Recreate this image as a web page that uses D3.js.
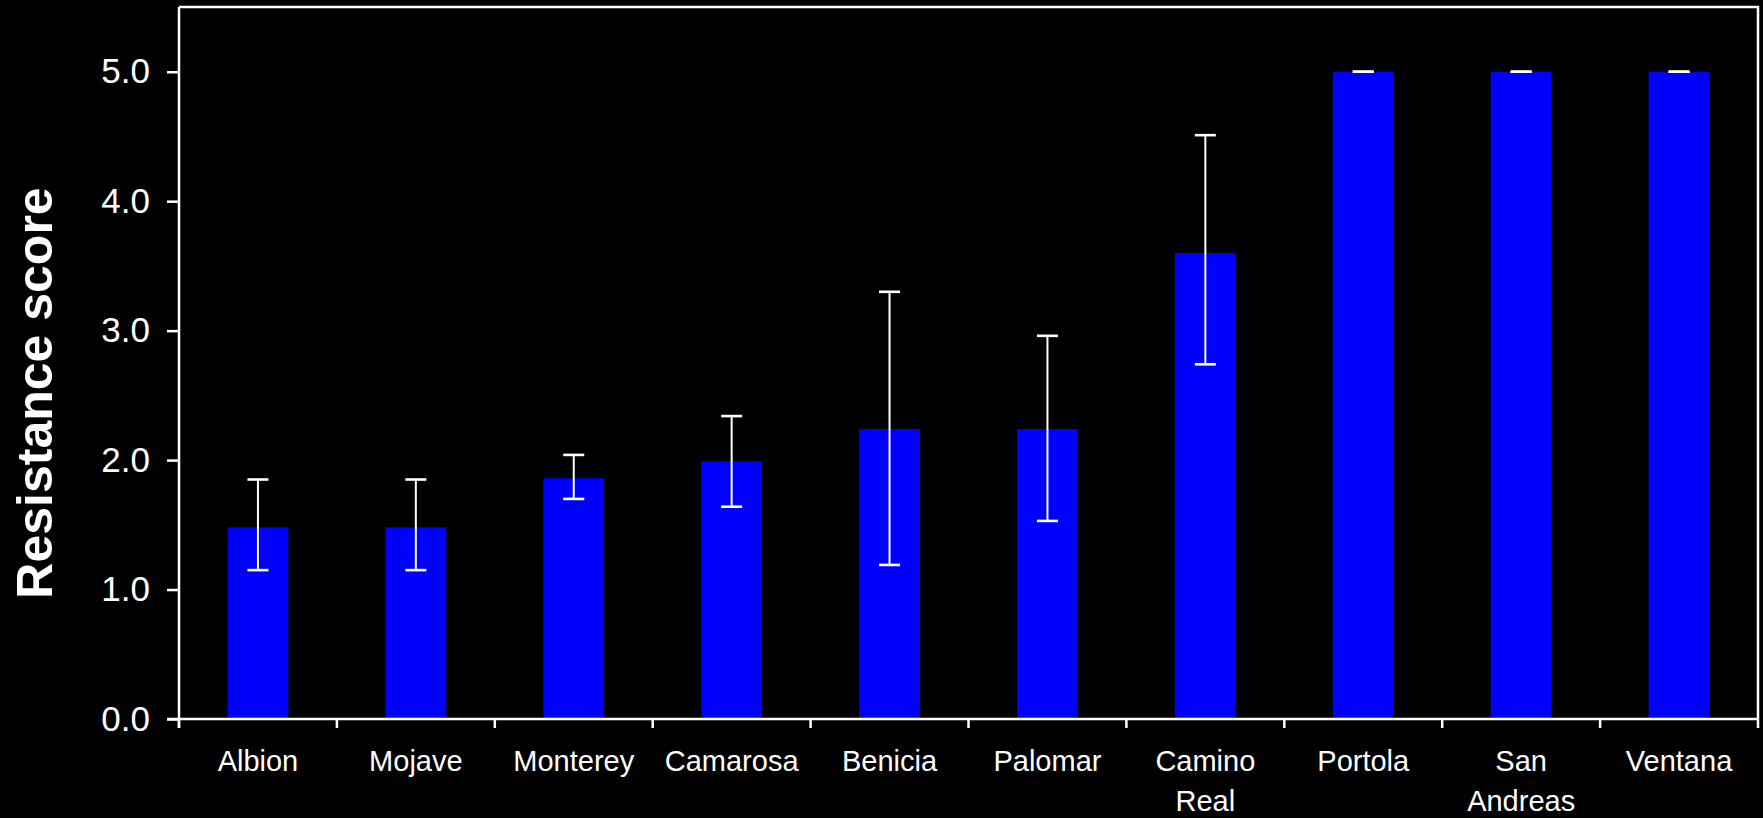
<!DOCTYPE html>
<html>
<head>
<meta charset="utf-8">
<script src="https://cdn.jsdelivr.net/npm/d3@7"></script>
<style>
  html, body { margin: 0; padding: 0; background: #000; }
  svg { display: block; }
  text { font-family: Arial, "Liberation Sans", sans-serif; fill: #fff; }
</style>
</head>
<body>
<svg id="chart" width="1763" height="818"></svg>
<script>
// Cultivars and their mean resistance scores with error-bar limits
const categories = ["Albion", "Mojave", "Monterey", "Camarosa", "Benicia",
                    "Palomar", "Camino Real", "Portola", "San Andreas", "Ventana"];
const means = [1.48, 1.48, 1.86, 1.99, 2.24, 2.24, 3.60, 5.0, 5.0, 5.0];
const upper = [1.85, 1.85, 2.04, 2.34, 3.30, 2.96, 4.51, 5.0, 5.0, 5.0];
const lower = [1.15, 1.15, 1.70, 1.64, 1.19, 1.53, 2.74, 5.0, 5.0, 5.0];
const yTicks = [0, 1, 2, 3, 4, 5];
const yTitle = "Resistance score";

const data = categories.map((c, i) => ({ name: c, mean: means[i], hi: upper[i], lo: lower[i] }));

const svg = d3.select("#chart");
const plotLeft = 179, plotRight = 1758, plotTop = 7, plotBottom = 719;

const x = d3.scaleBand().domain(categories).range([plotLeft, plotRight]).padding(0);
const y = d3.scaleLinear().domain([0, 5.5]).range([plotBottom, plotTop]);
const barW = x.bandwidth() * 0.385;

// frame (top and right edges)
svg.append("path")
  .attr("d", `M${plotLeft},${plotTop}H${plotRight}V${plotBottom}`)
  .attr("fill", "none").attr("stroke", "#fff").attr("stroke-width", 2.5);

// bars
svg.append("g").selectAll("rect").data(data).join("rect")
  .attr("x", d => x(d.name) + x.bandwidth() / 2 - barW / 2)
  .attr("y", d => y(d.mean))
  .attr("width", barW)
  .attr("height", d => y(0) - y(d.mean))
  .attr("fill", "#0000ff");

// error bars
const eb = svg.append("g").attr("stroke", "#fff");
const cx = d => x(d.name) + x.bandwidth() / 2;
const capW = 21;
eb.selectAll("line.stem").data(data).join("line").attr("class", "stem")
  .attr("x1", cx).attr("x2", cx)
  .attr("y1", d => y(d.hi)).attr("y2", d => y(d.lo))
  .attr("stroke-width", 2);
eb.selectAll("line.capHi").data(data).join("line").attr("class", "capHi")
  .attr("x1", d => cx(d) - capW / 2).attr("x2", d => cx(d) + capW / 2)
  .attr("y1", d => y(d.hi)).attr("y2", d => y(d.hi))
  .attr("stroke-width", 2.6);
eb.selectAll("line.capLo").data(data).join("line").attr("class", "capLo")
  .attr("x1", d => cx(d) - capW / 2).attr("x2", d => cx(d) + capW / 2)
  .attr("y1", d => y(d.lo)).attr("y2", d => y(d.lo))
  .attr("stroke-width", 2.6);

// y axis
const yAxis = svg.append("g").attr("transform", `translate(${plotLeft},0)`)
  .call(d3.axisLeft(y).tickValues(yTicks).tickFormat(d3.format(".1f")).tickSize(12).tickPadding(17));
yAxis.select(".domain").attr("d", `M0,${plotBottom + 9}V${plotTop}`);
yAxis.selectAll("line, path").attr("stroke", "#fff").attr("stroke-width", 2.5);
yAxis.selectAll("text").attr("font-size", 35).attr("fill", "#fff")
  .style("font-family", "Arial, 'Liberation Sans', sans-serif");

// x axis: ticks at band boundaries, labels centred in bands
const xg = svg.append("g");
xg.append("line").attr("x1", plotLeft - 12).attr("x2", plotRight).attr("y1", plotBottom).attr("y2", plotBottom)
  .attr("stroke", "#fff").attr("stroke-width", 2.5);
const bounds = categories.map(c => x(c)).concat([x(categories[categories.length - 1]) + x.bandwidth()]);
xg.selectAll("line.tick").data(bounds).join("line").attr("class", "tick")
  .attr("x1", d => d).attr("x2", d => d).attr("y1", plotBottom).attr("y2", plotBottom + 9)
  .attr("stroke", "#fff").attr("stroke-width", 2.5);
const labels = xg.selectAll("text").data(categories).join("text")
  .attr("x", d => x(d) + x.bandwidth() / 2)
  .attr("y", 771)
  .attr("text-anchor", "middle")
  .attr("font-size", 29);
labels.each(function (d) {
  const words = d.split(" ");
  const t = d3.select(this);
  words.forEach((w, i) => {
    t.append("tspan").attr("x", x(d) + x.bandwidth() / 2).attr("dy", i === 0 ? 0 : 40).text(w);
  });
});

// y axis title
svg.append("text")
  .attr("transform", `translate(52,393) rotate(-90)`)
  .attr("text-anchor", "middle")
  .attr("font-size", 50)
  .attr("font-weight", "bold")
  .text(yTitle);
</script>
</body>
</html>
